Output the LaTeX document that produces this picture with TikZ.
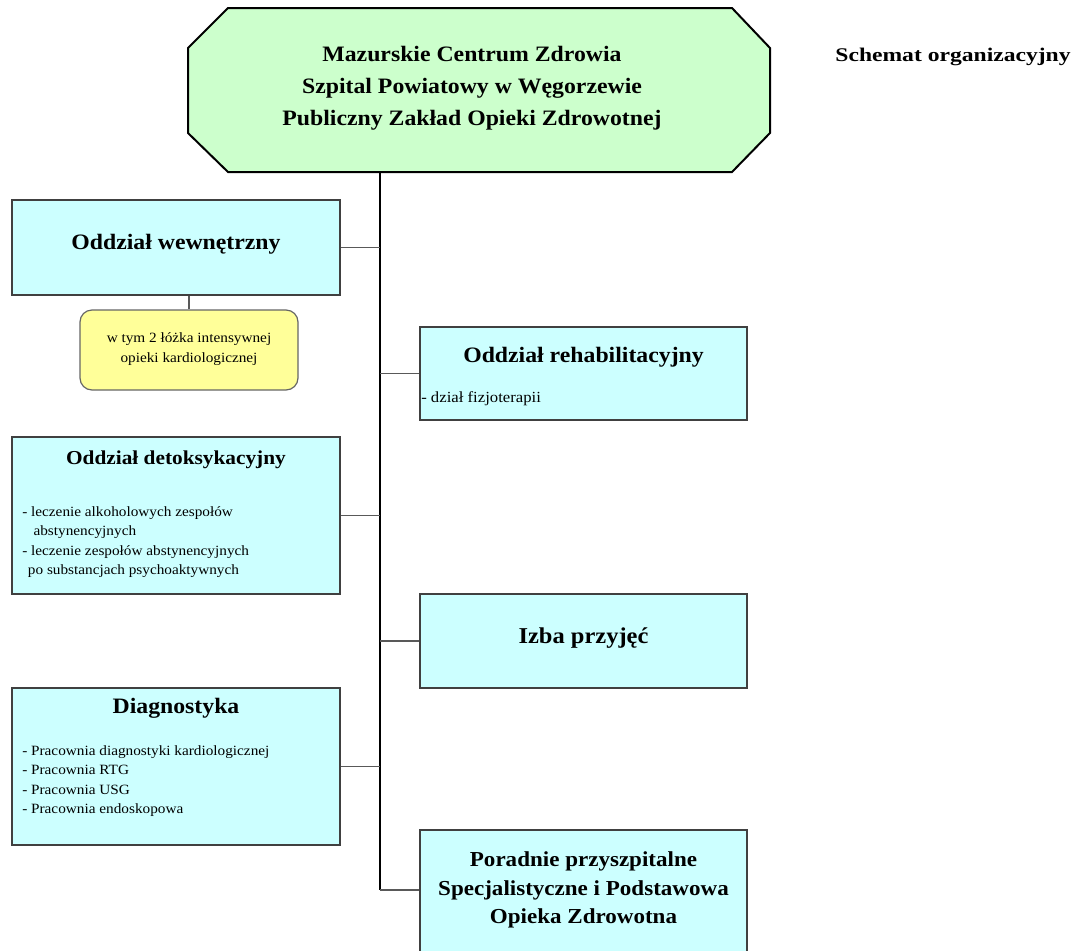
\documentclass[tikz,border=0pt]{standalone}
\usepackage{fontspec}
\setmainfont[FakeStretch=1.08]{Liberation Serif}
\newfontfamily\schemefont[FakeStretch=1.22]{Liberation Serif}

\definecolor{headgreen}{RGB}{204,255,204}
\definecolor{unitcyan}{RGB}{204,255,255}
\definecolor{noteyellow}{RGB}{255,255,153}

\tikzset{
  unit/.style={draw=black!75, line width=1.1pt, fill=unitcyan, inner sep=0pt},
  note/.style={draw=black!60, line width=0.9pt, fill=noteyellow, rounded corners=9pt, inner sep=0pt},
  link/.style={draw=black!65, line width=1.4pt},
  title/.style={font=\bfseries\fontsize{16.5}{21}\selectfont, align=center},
  list/.style={font=\fontsize{10.6}{14.6}\selectfont, align=left, anchor=north west, inner sep=0pt}
}

\begin{document}
\begin{tikzpicture}[x=0.75pt,y=-0.75pt]
\useasboundingbox (0,0) rectangle (1085,950);
\clip (0,0) rectangle (1085,950);

% gora
\filldraw[fill=headgreen, draw=black, line width=1.5pt]
  (228,8) -- (732,8) -- (770,48) -- (770,133) -- (732,172) -- (228,172) -- (188,133) -- (188,48) -- cycle;
\node[font=\bfseries\fontsize{16.5}{24}\selectfont, align=center] (head) at (472,88)
  {Mazurskie Centrum Zdrowia\\Szpital Powiatowy w Węgorzewie\\Publiczny Zakład Opieki Zdrowotnej};
\coordinate (headbot) at (380,172);
\node[font=\schemefont\bfseries\fontsize{14.5}{17}\selectfont] (scheme) at (953,57) {Schemat organizacyjny};

% lewa strona
\node[unit, minimum width=246pt, minimum height=71pt] (wewn) at (176,247.5) {};
\node[title] at (176,244) {Oddział wewnętrzny};
\node[note, minimum width=163.5pt, minimum height=60pt] (kardio) at (189,350) {};
\node[font=\fontsize{10.6}{14.6}\selectfont, align=center] at (189,349)
  {w tym 2 łóżka intensywnej\\opieki kardiologicznej};

\node[unit, minimum width=246pt, minimum height=118pt] (detox) at (176,515.5) {};
\node[title, font=\bfseries\fontsize{14.8}{19}\selectfont] at (176,460) {Oddział detoksykacyjny};
\node[list] at (22,506) {- leczenie alkoholowych zespołów\\\hspace*{0.8em}abstynencyjnych\\- leczenie zespołów abstynencyjnych\\\hspace*{0.4em}po substancjach psychoaktywnych};

\node[unit, minimum width=246pt, minimum height=118pt] (diag) at (176,766.5) {};
\node[title, font=\bfseries\fontsize{16.5}{21}\selectfont] at (176,708) {Diagnostyka};
\node[list] at (22,745) {- Pracownia diagnostyki kardiologicznej\\- Pracownia RTG\\- Pracownia USG\\- Pracownia endoskopowa};

% prawa strona
\node[unit, minimum width=245pt, minimum height=70pt] (rehab) at (583.5,373.5) {};
\node[title] at (583.5,357) {Oddział rehabilitacyjny};
\node[list, font=\fontsize{11.6}{15}\selectfont] at (421,391) {- dział fizjoterapii};

\node[unit, minimum width=245pt, minimum height=70.5pt] (izba) at (583.5,641) {};
\node[title, font=\bfseries\fontsize{17}{21}\selectfont] at (583.5,638) {Izba przyjęć};

\node[unit, minimum width=245pt, minimum height=97.5pt] (porad) at (583.5,895) {};
\node[title, font=\bfseries\fontsize{16}{21.5}\selectfont] at (583.5,890)
  {Poradnie przyszpitalne\\Specjalistyczne i Podstawowa\\Opieka Zdrowotna};

% linie
\coordinate (trunk) at (380,890);
\draw[black, line width=1.1pt] (headbot) -- (trunk);
\draw[link] (trunk) -- (porad.west |- trunk);
\draw[link] (wewn.east) -- (wewn.east -| trunk);
\draw[link] (detox.east) -- (detox.east -| trunk);
\draw[link] (diag.east) -- (diag.east -| trunk);
\draw[link] (rehab.west) -- (rehab.west -| trunk);
\draw[link] (izba.west) -- (izba.west -| trunk);
\draw[link] (kardio.north) -- (wewn.south -| kardio.north);
\end{tikzpicture}
\end{document}
